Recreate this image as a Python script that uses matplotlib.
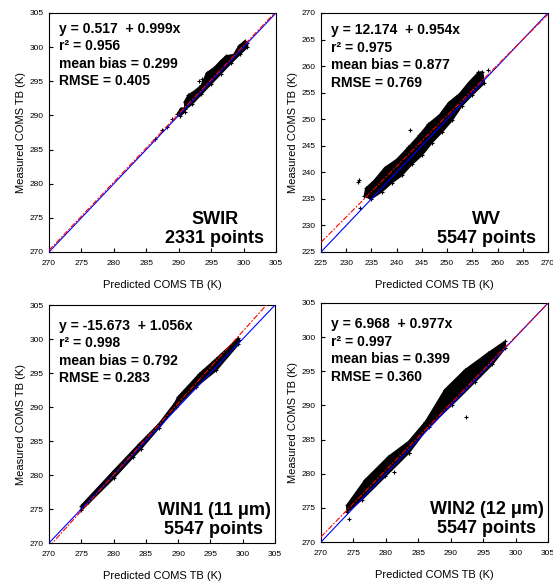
import numpy as np
import matplotlib
matplotlib.use("Agg")
import matplotlib.pyplot as plt

plt.rcParams['font.family'] = ['Liberation Sans', 'DejaVu Sans']

# panel info: name, points, axis range, fit (a, b), stats
names = ['SWIR', 'WV', 'WIN1 (11 μm)', 'WIN2 (12 μm)']
npoints = [2331, 5547, 5547, 5547]
lims = [(270, 305), (225, 270), (270, 305), (270, 305)]
intercepts = [0.517, 12.174, -15.673, 6.968]
slopes = [0.999, 0.954, 1.056, 0.977]
r2 = [0.956, 0.975, 0.998, 0.997]
bias = [0.299, 0.877, 0.792, 0.399]
rmse = [0.405, 0.769, 0.283, 0.360]

# outlines of the dense point clouds (x, y)
swir_cloud = [(290.9, 292.0), (291.5, 293.0), (292.5, 293.6), (293.5, 294.4), (294.3, 296.2),
              (295.5, 297.0), (296.5, 298.0), (297.3, 298.7), (298.5, 298.9), (299.3, 300.2),
              (300.2, 300.9), (300.6, 300.6), (300.6, 300.0), (299.5, 299.0), (298.0, 297.6),
              (296.5, 296.1), (295.0, 294.6), (293.5, 293.1), (292.0, 291.6), (291.0, 290.9)]
swir_cloud2 = [(289.8, 290.2), (290.3, 291.0), (291.0, 291.1), (290.9, 290.5), (290.2, 289.9)]
wv_cloud = [(233.9, 237.0), (235.5, 238.4), (237.7, 240.9), (240.0, 242.4), (242.3, 244.7),
            (244.5, 247.0), (246.3, 249.1), (248.5, 250.8), (250.3, 253.1), (252.5, 254.8),
            (254.3, 256.9), (256.2, 258.8), (257.0, 258.9), (257.4, 256.8), (255.0, 254.6),
            (252.9, 252.5), (251.0, 249.8), (249.0, 247.6), (247.0, 245.6), (245.0, 243.2),
            (243.0, 241.5), (241.0, 239.4), (239.0, 238.0), (237.0, 236.3), (234.9, 235.0),
            (233.6, 235.5)]
win1_cloud = [(275.0, 275.5), (280.0, 280.6), (283.0, 283.6), (284.0, 284.6), (287.0, 287.5),
              (289.5, 290.6), (290.0, 291.5), (293.3, 294.9), (295.9, 297.1), (299.3, 300.1),
              (299.5, 299.8), (299.3, 299.2), (295.9, 295.4), (292.8, 293.0), (289.7, 290.0),
              (287.0, 286.9), (284.2, 283.8), (283.0, 282.6), (280.0, 279.5), (275.0, 274.8)]
win2_cloud = [(274.0, 275.4), (276.8, 279.1), (280.4, 282.5), (283.5, 284.7), (286.1, 287.6),
              (289.1, 292.3), (292.2, 295.2), (295.8, 297.7), (298.4, 299.4), (298.4, 298.4),
              (296.4, 296.0), (293.8, 293.5), (290.2, 290.1), (286.6, 286.9), (283.5, 283.0),
              (279.9, 279.6), (276.3, 276.2), (274.0, 274.4)]
clouds = [[swir_cloud, swir_cloud2], [wv_cloud], [win1_cloud], [win2_cloud]]

# scattered single points
out_x = [[286.4, 287.5, 288.2, 289.0, 293.2, 293.6],
         [232.3, 232.6, 232.7, 242.6, 258.2],
         [276.0, 278.0, 286.0],
         [274.3, 281.2, 292.4, 283.6]]
out_y = [[286.5, 287.8, 288.3, 289.4, 295.0, 295.3],
         [238.2, 238.5, 233.2, 248.0, 259.3],
         [276.1, 278.1, 286.2],
         [273.3, 280.2, 288.3, 283.1]]

text_top = [0.963, 0.958, 0.943, 0.941]
positions = [[0.0886, 0.5663, 0.4105, 0.4114], [0.5805, 0.5663, 0.4105, 0.4114],
             [0.0886, 0.0654, 0.4087, 0.4096], [0.5805, 0.0671, 0.4105, 0.4114]]

fig = plt.figure(figsize=(5.53, 5.81), dpi=100)
for i in range(4):
    ax = fig.add_axes(positions[i])
    lo, hi = lims[i]
    for c in clouds[i]:
        xs, ys = zip(*c)
        ax.fill(xs, ys, color='black', lw=1.2, ec='black', zorder=2)
        ax.scatter(xs, ys, marker='+', s=8, lw=0.8, c='black', zorder=2)
    ax.scatter(out_x[i], out_y[i], marker='+', s=6, lw=0.8, c='black', zorder=2)
    xx = np.array([lo, hi])
    ax.plot(xx, xx, color='blue', lw=0.8, zorder=3)
    ax.plot(xx, intercepts[i] + slopes[i] * xx, color='red', lw=0.8,
            ls=(0, (5, 1.5, 1.5, 1.5)), zorder=4)
    ax.set_xlim(lo, hi)
    ax.set_ylim(lo, hi)
    ax.set_xticks(np.arange(lo, hi + 1, 5))
    ax.set_yticks(np.arange(lo, hi + 1, 5))
    ax.tick_params(direction='in', length=3, width=0.8, labelsize=6)
    ax.tick_params(axis='x', pad=6)
    ax.tick_params(axis='y', pad=4)
    for s in ax.spines.values():
        s.set_linewidth(0.8)
    ax.set_xlabel('Predicted COMS TB (K)', fontsize=8, labelpad=9)
    ax.set_ylabel('Measured COMS TB (K)', fontsize=8, labelpad=2.5)

    a = intercepts[i]
    lines = ['y = %.3f  + %.3fx' % (a, slopes[i]),
             'r² = %.3f' % r2[i],
             'mean bias = %.3f' % bias[i],
             'RMSE = %.3f' % rmse[i]]
    ax.text(0.045, text_top[i], '\n'.join(lines), transform=ax.transAxes,
            fontsize=10, fontweight='bold', va='top', ha='left', linespacing=1.32)
    ax.text(0.73, 0.022, '%s\n%d points' % (names[i], npoints[i]), transform=ax.transAxes,
            fontsize=13, fontweight='bold', va='bottom', ha='center', linespacing=1.1)

plt.savefig('out.png', dpi=100)
